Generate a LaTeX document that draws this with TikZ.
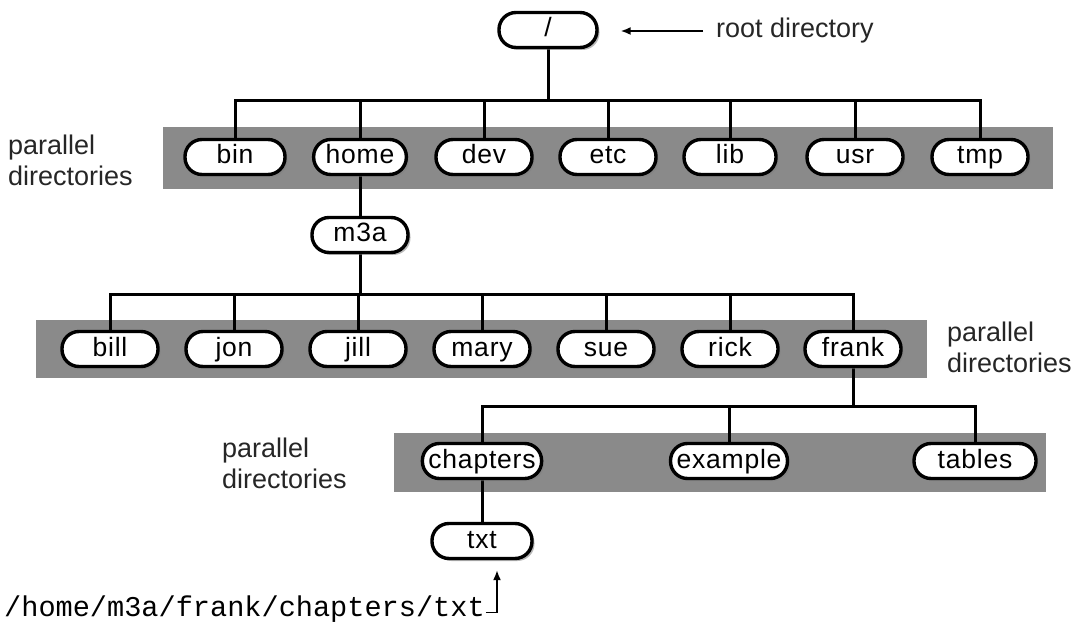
\documentclass[tikz,border=0pt]{standalone}
\usepackage{fontspec}
\setmainfont{Liberation Sans}
\newfontfamily\pathfont{Liberation Mono}
\usetikzlibrary{shadows,arrows.meta}
\definecolor{bandgray}{RGB}{138,138,138}
\pgfdeclarelayer{back}
\pgfdeclarelayer{wires}
\pgfsetlayers{back,wires,main}

\begin{document}
\begin{tikzpicture}[x=1pt,y=-1pt,
  dir/.style={draw=black, line width=3.4pt, fill=white, rounded corners=17pt,
    minimum width=96pt, minimum height=35pt, inner xsep=12pt, inner ysep=0pt,
    text height=19pt, text depth=5pt,
    font=\fontsize{26.5}{30}\selectfont\addfontfeatures{LetterSpace=3},
    drop shadow={shadow xshift=2.5pt, shadow yshift=-2.5pt, opacity=0.55}},
  link/.style={line width=3pt, draw=black},
  band/.style={fill=bandgray},
  note/.style={font=\fontsize{27}{31}\selectfont, align=left, text=black!85, inner sep=0pt},
  pointer/.style={line width=1.6pt, draw=black, -{Latex[length=10pt,width=8pt]}},
]
\useasboundingbox (0,0) rectangle (1079,631);

% directory nodes
\node[dir, minimum width=98pt] (root) at (548,30) {/};

\node[dir, minimum width=100pt] (bin) at (235,157) {bin};
\node[dir, minimum width=92pt] (home) at (360,157) {home};
\node[dir] (dev) at (484,157) {dev};
\node[dir] (etc) at (608,157) {etc};
\node[dir, minimum width=92pt] (lib) at (730,157) {lib};
\node[dir] (usr) at (855,157) {usr};
\node[dir] (tmp) at (980,157) {tmp};

\node[dir] (m3a) at (360,235) {m3a};

\node[dir] (bill) at (110,349) {bill};
\node[dir] (jon) at (234,349) {jon};
\node[dir] (jill) at (358,349) {jill};
\node[dir] (mary) at (482,349) {mary};
\node[dir] (sue) at (606,349) {sue};
\node[dir] (rick) at (730,349) {rick};
\node[dir] (frank) at (853,349) {frank};

\node[dir, inner xsep=6pt] (chapters) at (482,461) {chapters};
\node[dir, inner xsep=6pt] (example) at (729,461) {example};
\node[dir, minimum width=122pt] (tables) at (975,461) {tables};

\node[dir, minimum width=100pt] (txt) at (482,541) {txt};

% labels
\node[note, anchor=west] (rootlbl) at (716,31) {root directory};
\node[note, anchor=west] (par1) at (8,160) {parallel\\directories};
\node[note, anchor=west] (par2) at (947,347) {parallel\\directories};
\node[note, anchor=west] (par3) at (222,463) {parallel\\directories};
\node[font=\pathfont\fontsize{28.6}{32}\selectfont, anchor=west, inner sep=1pt] (path) at (3,609) {/home/m3a/frank/chapters/txt};

% shaded bands behind each sibling row
\begin{pgfonlayer}{back}
  \fill[band] (163,127) rectangle (1053,189);
  \fill[band] (36,320) rectangle (927,378);
  \fill[band] (394,433) rectangle (1046,492);
\end{pgfonlayer}

% tree connectors
\coordinate (bus1) at (0,101);
\coordinate (bus2) at (0,294);
\coordinate (bus3) at (0,406);
\begin{pgfonlayer}{wires}
  \draw[link] (root.south) -- (root.south |- bus1);
  \foreach \c in {bin,home,dev,etc,lib,usr,tmp}
    \draw[link] (root.south |- bus1) -| (\c.north);
  \draw[link] (home.south) -- (m3a.north);
  \draw[link] (m3a.south) -- (m3a.south |- bus2);
  \foreach \c in {bill,jon,jill,mary,sue,rick,frank}
    \draw[link] (m3a.south |- bus2) -| (\c.north);
  \draw[link] (frank.south) -- (frank.south |- bus3);
  \foreach \c in {chapters,example,tables}
    \draw[link] (frank.south |- bus3) -| (\c.north);
  \draw[link] (chapters.south) -- (txt.north);
\end{pgfonlayer}

% pointers
\draw[pointer, shorten <=13pt, shorten >=22pt] (rootlbl.west) -- (rootlbl.west -| root.east);
\draw[pointer, shorten >=10pt] ([yshift=4pt]path.base east) -| ([xshift=15pt]txt.south);
\end{tikzpicture}
\end{document}
